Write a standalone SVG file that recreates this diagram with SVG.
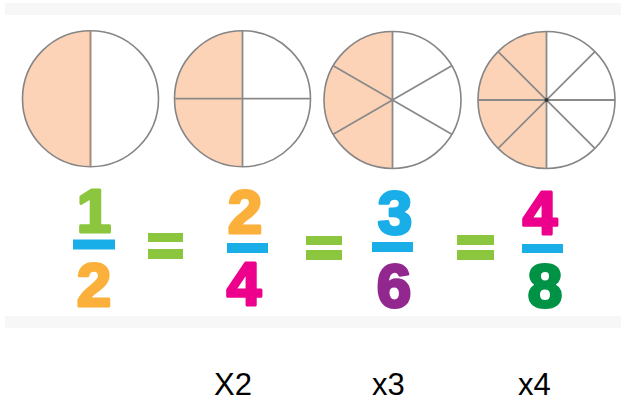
<svg xmlns="http://www.w3.org/2000/svg" width="621" height="402" viewBox="0 0 621 402">
<style>
.band{fill:#f7f7f7}
.pie{fill:#fff}
.half{fill:#fdd3b7}
.rim{fill:none;stroke:#858585;stroke-width:1.6}
.div{stroke:#8a8a8a;stroke-width:1.8;fill:none}
.dig{font-family:"Liberation Sans",Arial,sans-serif;font-weight:bold;font-size:62px;text-anchor:middle;stroke-width:3;stroke-linejoin:round}
.bar{fill:#1aaee9}
.eq{fill:#8cc63f}
.mul{font-family:"Liberation Sans",Arial,sans-serif;font-size:31px;fill:#000}
</style>
<rect x="0" y="0" width="621" height="402" fill="#fff"/>
<rect class="band" x="5" y="3" width="616" height="12"/>
<rect class="band" x="5" y="316" width="616" height="12"/>

<g id="circle-half">
<circle class="pie" cx="90.5" cy="98.7" r="68"/>
<path class="half" d="M90.5 30.7 A68 68 0 0 0 90.5 166.7 Z"/>
<circle class="rim" cx="90.5" cy="98.7" r="68"/>
<line x1="90.5" y1="30.7" x2="90.5" y2="166.7" stroke="#a88a78" stroke-width="2"/>
</g>

<g id="circle-quarters">
<circle class="pie" cx="242.5" cy="98.7" r="68"/>
<path class="half" d="M242.5 30.7 A68 68 0 0 0 242.5 166.7 Z"/>
<circle class="rim" cx="242.5" cy="98.7" r="68"/>
<path class="div" d="M242.5 30.7 V166.7 M174.5 98.7 H310.5"/>
</g>

<g id="circle-sixths">
<circle class="pie" cx="392.5" cy="100" r="68.5"/>
<path class="half" d="M392.5 31.5 A68.5 68.5 0 0 0 392.5 168.5 Z"/>
<circle class="rim" cx="392.5" cy="100" r="68.5"/>
<path class="div" d="M392.5 31.5 V168.5 M333.2 65.75 L451.8 134.25 M333.2 134.25 L451.8 65.75"/>
</g>

<g id="circle-eighths">
<circle class="pie" cx="546.5" cy="100" r="68.5"/>
<path class="half" d="M546.5 31.5 A68.5 68.5 0 0 0 546.5 168.5 Z"/>
<circle class="rim" cx="546.5" cy="100" r="68.5"/>
<path class="div" d="M546.5 31.5 V168.5 M478 100 H615 M498.1 51.6 L594.9 148.4 M498.1 148.4 L594.9 51.6"/>
<circle cx="546.5" cy="100" r="2" fill="#333"/>
</g>

<g id="fraction-1-2">
<text class="dig" x="94" y="232" fill="#8cc63f" stroke="#8cc63f">1</text>
<rect class="bar" x="73" y="239.5" width="42" height="10"/>
<text class="dig" x="94" y="306" fill="#fbb03b" stroke="#fbb03b">2</text>
</g>

<g id="equals-1">
<rect class="eq" x="148" y="233" width="35" height="9"/>
<rect class="eq" x="148" y="249" width="35" height="10"/>
</g>

<g id="fraction-2-4">
<text class="dig" x="245" y="233" fill="#fbb03b" stroke="#fbb03b">2</text>
<rect class="bar" x="227" y="243" width="41" height="10"/>
<text class="dig" x="244" y="305" fill="#ec008c" stroke="#ec008c">4</text>
</g>

<g id="equals-2">
<rect class="eq" x="306" y="236" width="36" height="9"/>
<rect class="eq" x="306" y="250" width="36" height="10"/>
</g>

<g id="fraction-3-6">
<text class="dig" x="395" y="234" fill="#1aaee9" stroke="#1aaee9">3</text>
<rect class="bar" x="372" y="242" width="41" height="10"/>
<text class="dig" x="394" y="307" fill="#92278f" stroke="#92278f">6</text>
</g>

<g id="equals-3">
<rect class="eq" x="457" y="235" width="37" height="10"/>
<rect class="eq" x="457" y="250" width="37" height="10"/>
</g>

<g id="fraction-4-8">
<text class="dig" x="540" y="234" fill="#ec008c" stroke="#ec008c">4</text>
<rect class="bar" x="522" y="244" width="41" height="9"/>
<text class="dig" x="545" y="307" fill="#009245" stroke="#009245">8</text>
</g>

<g id="multipliers">
<text class="mul" x="214" y="395">X2</text>
<text class="mul" x="372" y="395">x3</text>
<text class="mul" x="518" y="395">x4</text>
</g>
</svg>
